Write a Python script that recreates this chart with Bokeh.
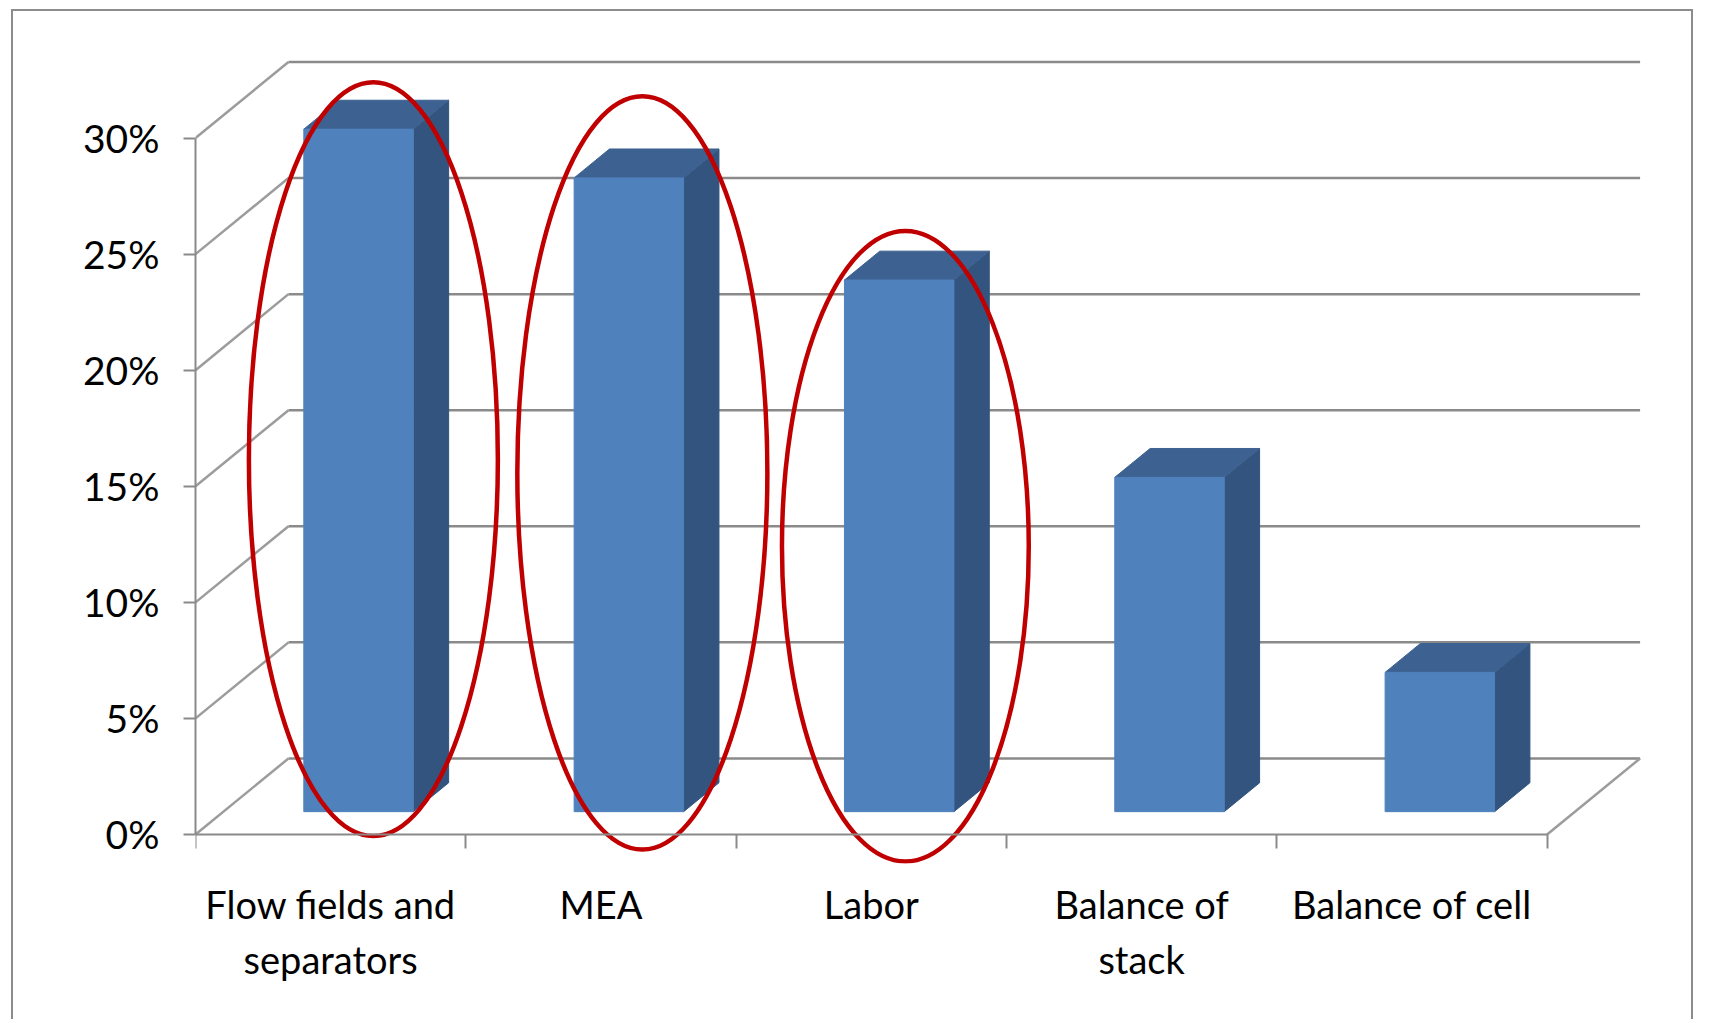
from bokeh.plotting import figure
from bokeh.models import Range1d, FixedTicker, LinearAxis
from bokeh.embed import file_html
from bokeh.resources import INLINE

# Cost shares of the stack components (percent of total)
categories = ["Flow fields and\nseparators", "MEA", "Labor", "Balance of\nstack", "Balance of cell"]
shares = [29.4, 27.3, 22.9, 14.4, 6.0]
y_ticks = [0, 5, 10, 15, 20, 25, 30]
y_tick_labels = ["0%", "5%", "10%", "15%", "20%", "25%", "30%"]
highlighted = [0, 1, 2]          # categories ringed in red

# 3-D box geometry (data units)
DEPTH_X = 0.344      # how far the back wall sits to the right, in categories
DEPTH_Y = 3.276      # how far the back wall sits up, in percent
BAR_FRONT = 0.30     # front face of the columns, as a fraction of the depth
BAR_BACK = 0.68      # back face of the columns
BAR_WIDTH = 0.405    # column width, in categories
FLOOR_ROOM = 1.25    # room under the floor so the rings are not cut off

# red rings: horizontal shift, extra height above the column, lowest point
RING_SHIFT = [0.158, 0.153, 0.126]
RING_WIDTH = [0.921, 0.925, 0.913]
RING_TOP_PAD = [3.0, 4.5, 3.1]
RING_BOTTOM = [-0.07, -0.65, -1.16]

FONT = "Lato"
GRID = "#8a8a8a"
DIAG = "#9c9c9c"
FRONT = "#4F81BD"
TOP = "#3D6190"
SIDE = "#33547E"

n = len(categories)
y_max = y_ticks[-1]

p = figure(
    width=1682, height=1010,
    x_range=Range1d(0, n + DEPTH_X + 0.02),
    y_range=Range1d(-FLOOR_ROOM, y_max + DEPTH_Y + 0.15),
    x_axis_type=None, y_axis_type=None,
    output_backend="svg", toolbar_location=None,
    min_border_left=182, min_border_right=50,
    min_border_top=47, min_border_bottom=158,
)
p.outline_line_color = None
p.background_fill_color = "white"
p.border_fill_color = "white"
p.styles = {
    "margin-left": "11px", "margin-top": "9px",
    "border-left": "2px solid #8c8c8c", "border-right": "2px solid #8c8c8c",
    "border-top": "2px solid #8c8c8c",
}

# back wall gridlines
p.segment(x0=[DEPTH_X] * len(y_ticks), y0=[t + DEPTH_Y for t in y_ticks],
          x1=[n + DEPTH_X] * len(y_ticks), y1=[t + DEPTH_Y for t in y_ticks],
          line_color=GRID, line_width=2.5)
# side wall diagonals from the value axis to the back wall
p.segment(x0=[0] * len(y_ticks), y0=y_ticks,
          x1=[DEPTH_X] * len(y_ticks), y1=[t + DEPTH_Y for t in y_ticks],
          line_color=DIAG, line_width=2.5)
# right edge of the floor
p.segment(x0=[n], y0=[0], x1=[n + DEPTH_X], y1=[DEPTH_Y], line_color=DIAG, line_width=2.5)

# columns
fx = [i + 0.5 - BAR_WIDTH / 2 + BAR_FRONT * DEPTH_X for i in range(n)]
fr = [x + BAR_WIDTH for x in fx]
fb = BAR_FRONT * DEPTH_Y
ddx = (BAR_BACK - BAR_FRONT) * DEPTH_X
ddy = (BAR_BACK - BAR_FRONT) * DEPTH_Y
tops = [v + fb for v in shares]

side_xs = [[r, r + ddx, r + ddx, r] for r in fr]
side_ys = [[fb, fb + ddy, t + ddy, t] for t in tops]
top_xs = [[l, r, r + ddx, l + ddx] for l, r in zip(fx, fr)]
top_ys = [[t, t, t + ddy, t + ddy] for t in tops]

p.patches(side_xs, side_ys, fill_color=SIDE, line_color=SIDE, line_width=1)
p.patches(top_xs, top_ys, fill_color=TOP, line_color=TOP, line_width=1)
p.quad(left=fx, right=fr, bottom=[fb] * n, top=tops,
       fill_color=FRONT, line_color=FRONT, line_width=1)

# red rings around the leading components
ring_x = [i + 0.5 + s for i, s in zip(highlighted, RING_SHIFT)]
ring_top = [shares[i] + pad for i, pad in zip(highlighted, RING_TOP_PAD)]
ring_y = [(t + b) / 2 for t, b in zip(ring_top, RING_BOTTOM)]
ring_h = [t - b for t, b in zip(ring_top, RING_BOTTOM)]
p.ellipse(x=ring_x, y=ring_y, width=RING_WIDTH, height=ring_h,
          fill_color=None, line_color="#C00000", line_width=4.5)

# value axis
yaxis = LinearAxis(
    ticker=FixedTicker(ticks=y_ticks), bounds=(0, y_max),
    major_label_overrides={t: lab for t, lab in zip(y_ticks, y_tick_labels)},
    axis_line_color=GRID, axis_line_width=2,
    major_tick_line_color=GRID, major_tick_line_width=2,
    major_tick_in=0, major_tick_out=12,
    minor_tick_line_color=None,
    major_label_standoff=24,
    major_label_text_font=FONT, major_label_text_font_size="39px",
    major_label_text_color="black",
)
p.add_layout(yaxis, "left")

# front edge of the floor, with ticks on the category boundaries
floor_axis = LinearAxis(
    fixed_location=0,
    ticker=FixedTicker(ticks=[], minor_ticks=list(range(n + 1))),
    bounds=(0, n),
    axis_line_color=GRID, axis_line_width=2,
    major_tick_line_color=None,
    minor_tick_line_color=GRID, minor_tick_line_width=2,
    minor_tick_in=0, minor_tick_out=14,
    major_label_text_font_size="0px",
)
p.add_layout(floor_axis, "below")

# category names, centred in each slot
label_axis = LinearAxis(
    ticker=FixedTicker(ticks=[i + 0.5 for i in range(n)]),
    major_label_overrides={i + 0.5: c for i, c in enumerate(categories)},
    axis_line_color=None,
    major_tick_line_color=None, major_tick_in=0, major_tick_out=0,
    minor_tick_line_color=None,
    major_label_standoff=17,
    major_label_text_font=FONT, major_label_text_font_size="38px",
    major_label_text_line_height=1.2,
    major_label_text_color="black",
)
p.add_layout(label_axis, "below")

open("out.html", "w").write(file_html(p, INLINE))
